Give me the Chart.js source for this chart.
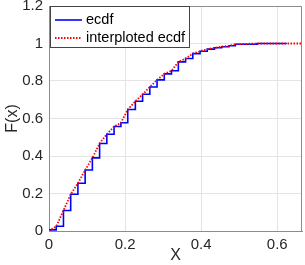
<!DOCTYPE html>
<html>
<head>
<meta charset="utf-8">
<script src="https://cdn.jsdelivr.net/npm/chart.js@4/dist/chart.umd.min.js"></script>
<style>
html,body{margin:0;padding:0;background:#fff;}
#wrap{width:305px;height:265px;}
</style>
</head>
<body>
<div id="wrap"><canvas id="c" width="305" height="265"></canvas></div>
<script>
const xVals = [0, 0.019, 0.038, 0.057, 0.076, 0.095, 0.114, 0.133, 0.152, 0.171, 0.189, 0.207, 0.227, 0.246, 0.265, 0.284, 0.303, 0.322, 0.340, 0.359, 0.378, 0.397, 0.416, 0.435, 0.454, 0.473, 0.490, 0.547, 0.625];
const ecdfVals = [0.006, 0.025, 0.109, 0.196, 0.255, 0.325, 0.390, 0.467, 0.516, 0.557, 0.577, 0.648, 0.692, 0.729, 0.768, 0.806, 0.838, 0.855, 0.902, 0.920, 0.946, 0.959, 0.970, 0.977, 0.983, 0.988, 0.996, 1.0, 1.0];
const interpX = [0, 0.019, 0.038, 0.057, 0.076, 0.095, 0.114, 0.133, 0.152, 0.171, 0.189, 0.207, 0.227, 0.246, 0.265, 0.284, 0.303, 0.322, 0.340, 0.359, 0.378, 0.397, 0.416, 0.435, 0.454, 0.473, 0.490, 0.547, 0.625, 0.665];
const interpVals = [0, 0.025, 0.109, 0.196, 0.255, 0.325, 0.390, 0.467, 0.516, 0.557, 0.577, 0.648, 0.692, 0.729, 0.768, 0.806, 0.838, 0.855, 0.902, 0.920, 0.946, 0.959, 0.970, 0.977, 0.983, 0.988, 0.996, 1.0, 1.0, 1.0];
const xTicks = [0, 0.2, 0.4, 0.6];
const yTicks = [0, 0.2, 0.4, 0.6, 0.8, 1, 1.2];
const seriesNames = ['ecdf', 'interploted ecdf'];
const xTitle = 'X';
const yTitle = 'F(x)';

const FONT = '"Liberation Sans", Arial, Helvetica, sans-serif';

const boxPlugin = {
  id: 'boxPlugin',
  afterDatasetsDraw(chart) {
    const {ctx, chartArea: a} = chart;
    ctx.save();
    ctx.strokeStyle = '#8c8c8c';
    ctx.lineWidth = 1;
    ctx.beginPath();
    ctx.moveTo(a.left + 0.5, a.top + 0.5);
    ctx.lineTo(a.right - 0.5, a.top + 0.5);
    ctx.lineTo(a.right - 0.5, a.bottom);
    ctx.stroke();
    ctx.restore();
  }
};

const legendPlugin = {
  id: 'legendPlugin',
  afterDraw(chart) {
    const {ctx, chartArea: a} = chart;
    const x0 = a.left + 1, y0 = a.top, w = 140, h = 42;
    ctx.save();
    ctx.fillStyle = '#fff';
    ctx.fillRect(x0, y0, w, h);
    ctx.strokeStyle = '#444';
    ctx.lineWidth = 1;
    ctx.strokeRect(x0 + 0.5, y0 + 0.5, w - 1, h - 1);
    ctx.font = '14.5px ' + FONT;
    ctx.textBaseline = 'middle';
    ctx.fillStyle = '#000';
    const rows = [y0 + 14, y0 + 32];
    chart.data.datasets.forEach((ds) => {
      const yy = rows[ds.legendIndex];
      ctx.strokeStyle = ds.borderColor;
      ctx.lineWidth = ds.borderWidth;
      ctx.setLineDash(ds.borderDash || []);
      ctx.beginPath();
      ctx.moveTo(x0 + 5, yy);
      ctx.lineTo(x0 + 32, yy);
      ctx.stroke();
      ctx.setLineDash([]);
      ctx.fillText(ds.label, x0 + 36, yy);
    });
    ctx.restore();
  }
};

new Chart(document.getElementById('c'), {
  type: 'line',
  data: {
    datasets: [
      {
        label: seriesNames[0],
        legendIndex: 0,
        data: xVals.map((x, i) => ({x: x, y: ecdfVals[i]})),
        borderColor: '#0000ff',
        borderWidth: 1.6,
        stepped: 'before',
        pointRadius: 0,
        fill: false,
        order: 2
      },
      {
        label: seriesNames[1],
        legendIndex: 1,
        data: interpX.map((x, i) => ({x: x, y: interpVals[i]})),
        borderColor: '#ff0000',
        borderWidth: 1.8,
        borderDash: [1.5, 1.5],
        pointRadius: 0,
        tension: 0,
        fill: false,
        order: 1
      }
    ]
  },
  options: {
    responsive: false,
    animation: false,
    devicePixelRatio: 1,
    layout: {padding: {left: 0, right: 3, top: 0, bottom: 0}},
    plugins: {legend: {display: false}, tooltip: {enabled: false}},
    scales: {
      x: {
        type: 'linear',
        min: 0,
        max: 0.665,
        afterBuildTicks: s => { s.ticks = xTicks.map(v => ({value: v})); },
        afterFit: s => { s.height = 34; },
        grid: {color: '#e4e4e4', tickLength: 0, drawTicks: false},
        border: {display: true, color: '#8c8c8c', width: 1},
        ticks: {font: {family: FONT, size: 15}, color: '#262626', padding: 5, maxRotation: 0,
                callback: v => String(v)},
        title: {display: true, text: xTitle, font: {family: FONT, size: 16}, color: '#262626', padding: {top: 0, bottom: 0}}
      },
      y: {
        type: 'linear',
        min: 0,
        max: 1.2,
        afterBuildTicks: s => { s.ticks = yTicks.map(v => ({value: v})); },
        afterFit: s => { s.width = 49; },
        grid: {color: '#e4e4e4', tickLength: 0, drawTicks: false},
        border: {display: true, color: '#8c8c8c', width: 1},
        ticks: {font: {family: FONT, size: 15, lineHeight: 0}, color: '#262626', padding: 6,
                callback: v => String(v)},
        title: {display: true, text: yTitle, font: {family: FONT, size: 16}, color: '#262626', padding: {top: 3, bottom: 0}}
      }
    }
  },
  plugins: [boxPlugin, legendPlugin]
});
</script>
</body>
</html>
